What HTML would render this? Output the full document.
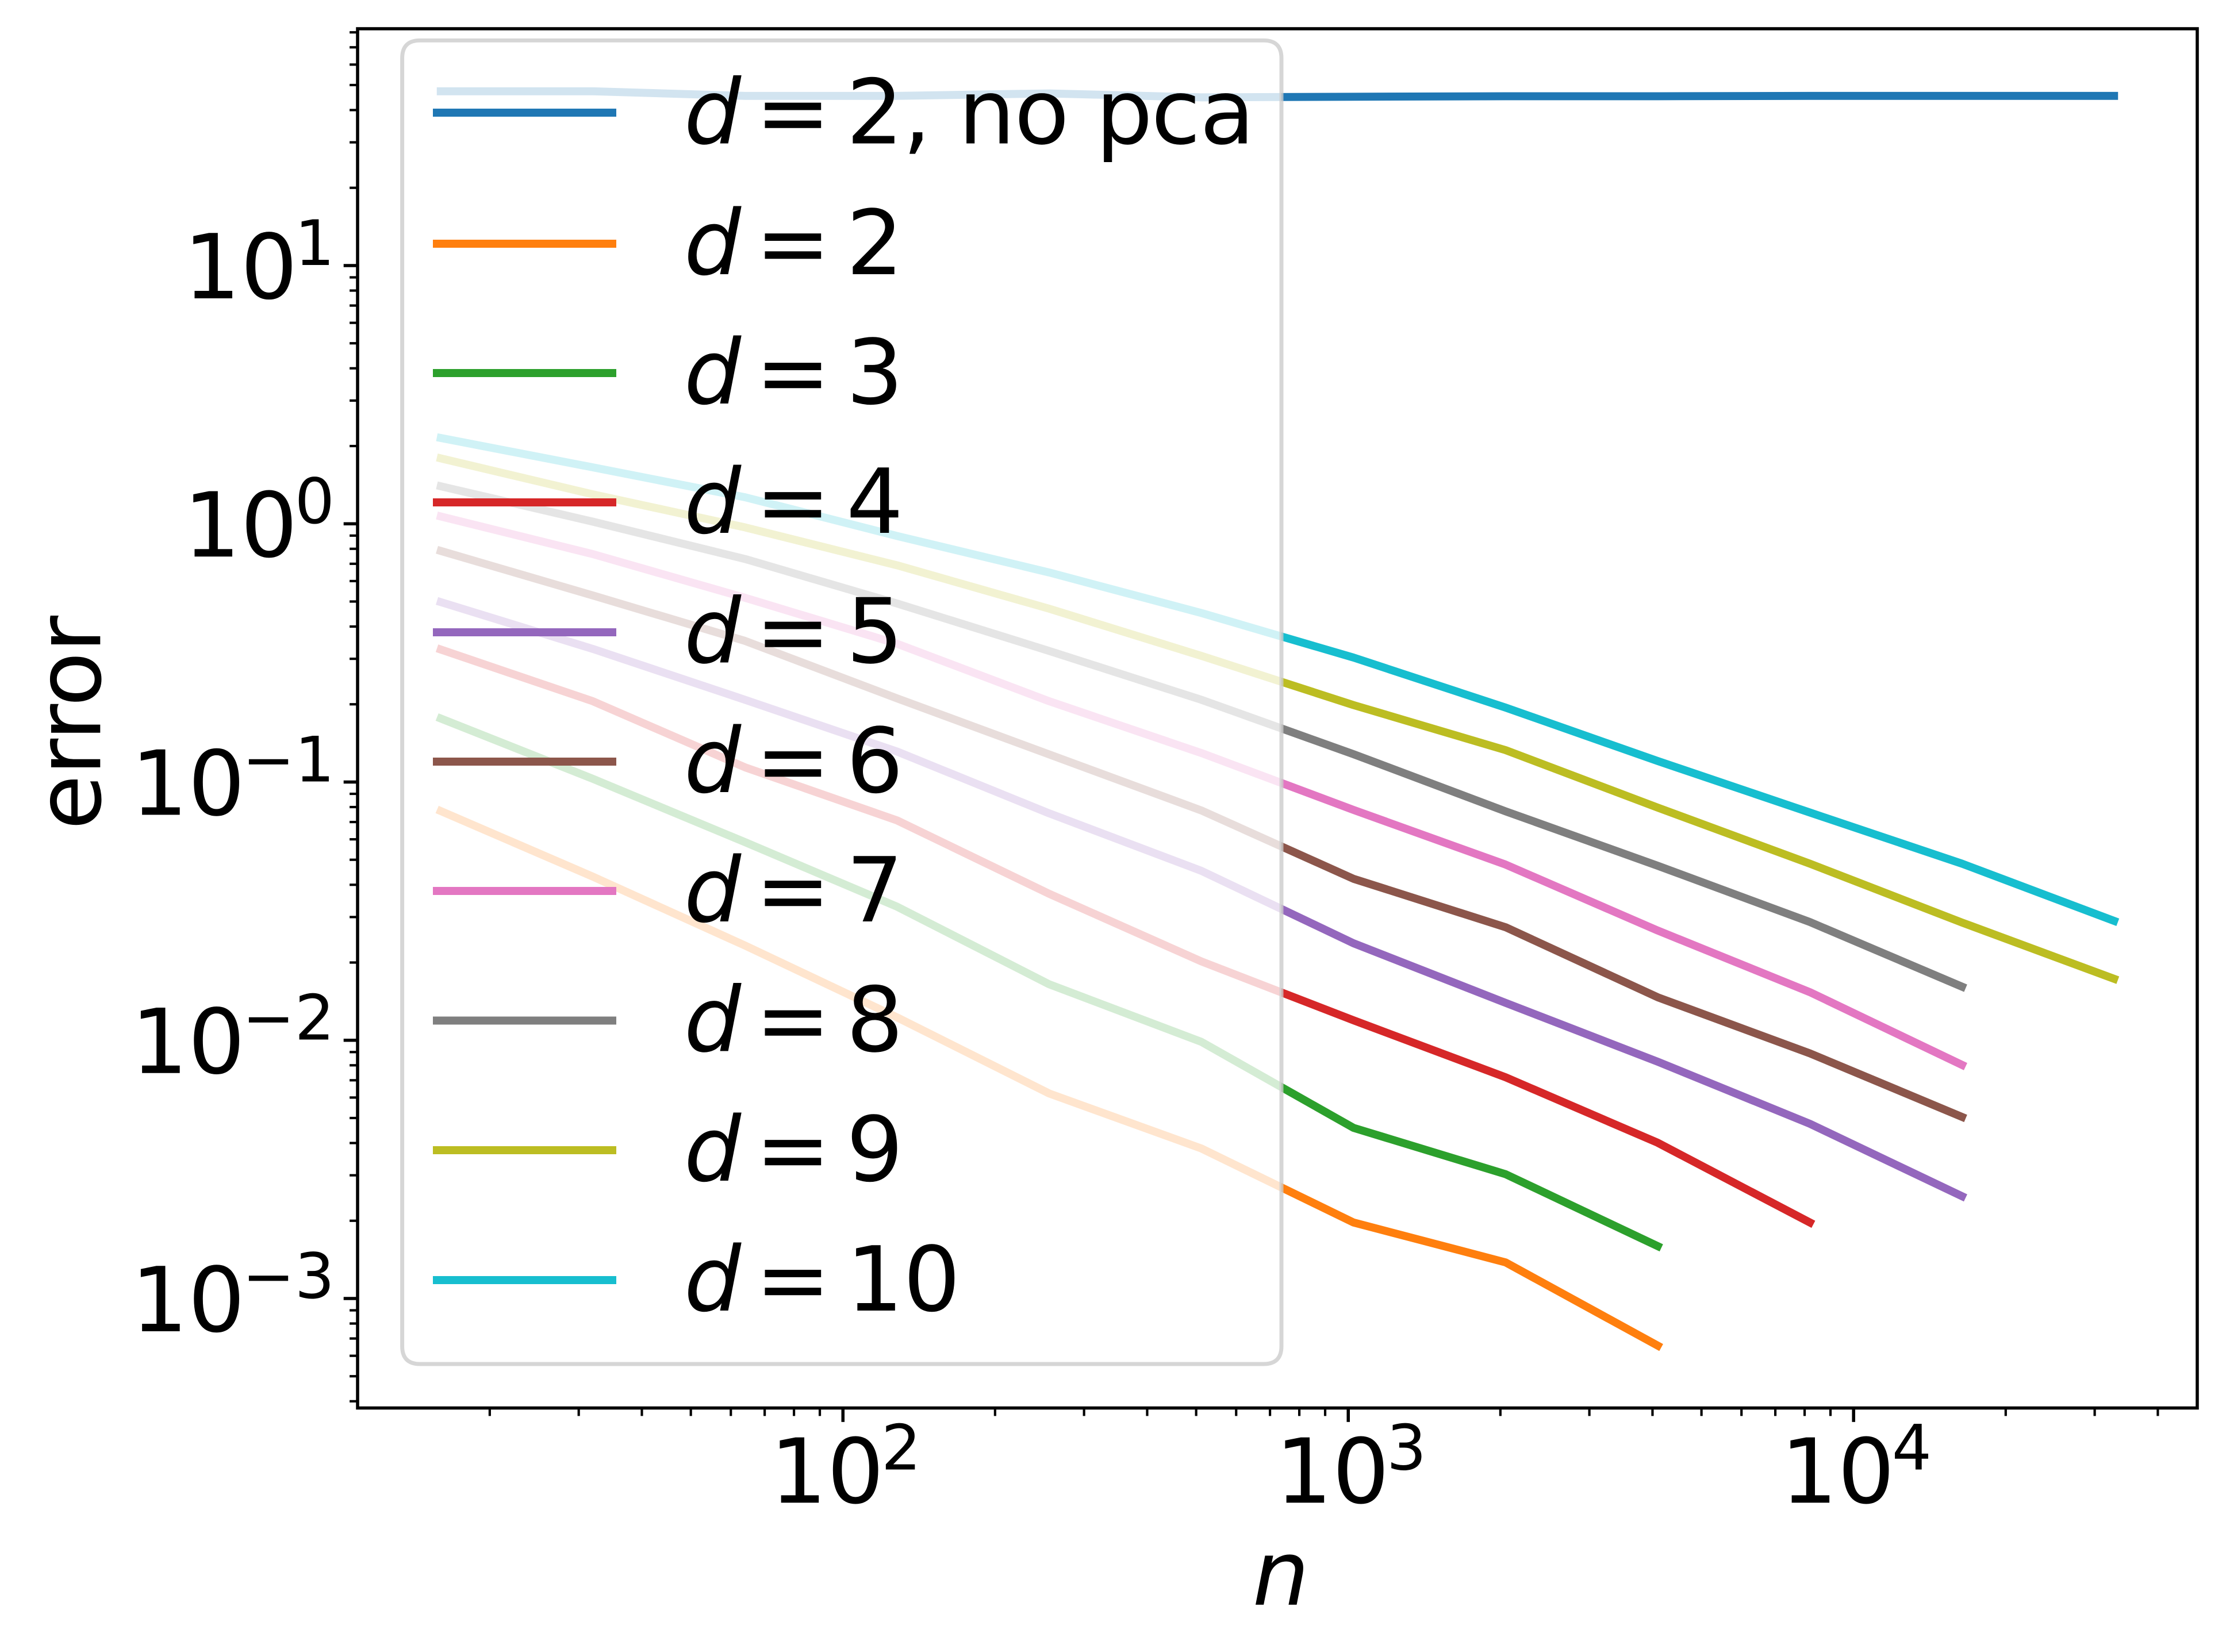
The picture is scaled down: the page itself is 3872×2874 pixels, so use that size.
<!DOCTYPE html>
<html lang="en">
<head>
<meta charset="utf-8">
<title>Error versus n on log-log axes</title>
<style>
html,body{margin:0;padding:0;background:#fff;width:3872px;height:2874px;overflow:hidden}
svg{display:block}
text{font-family:"DejaVu Sans","Liberation Sans",sans-serif;font-size:156px;fill:#000;text-rendering:geometricPrecision}
.it{font-style:oblique}
</style>
</head>
<body>
<svg xmlns="http://www.w3.org/2000/svg" width="3872" height="2874" viewBox="0 0 3872 2874">
  <rect x="0" y="0" width="3872" height="2874" fill="#fff"/>
  <g id="series"></g>
  <g id="ticks"></g>
  <rect x="622" y="50" width="3200" height="2399.5" fill="none" stroke="#000" stroke-width="5.55"/>
  <g id="tick-labels"></g>
  <text x="174.3" y="1258" text-anchor="middle" letter-spacing="-1.2" transform="rotate(-90 174.3 1258)">error</text>
  <text x="2228" y="2791.7" text-anchor="middle" class="it">n</text>

  <g>
    <path d="M730.6 70.3 H2198 Q2229 70.3 2229 101.3 V2342 Q2229 2373 2198 2373 H730.6 Q699.6 2373 699.6 2342 V101.3 Q699.6 70.3 730.6 70.3 Z" fill="#fff" fill-opacity="0.8" stroke="#ccc" stroke-opacity="0.8" stroke-width="6.94"/>

    <g>
      <rect x="753" y="189" width="319" height="14" fill="#1f77b4"/>
      <text y="249.5"><tspan x="1190" class="it">d</tspan><tspan x="1314">=</tspan><tspan x="1472">2</tspan><tspan x="1570 1620 1667 1764.4 1862 1906 2002.4 2087">, no pca</tspan></text>
    </g>
    <g>
      <rect x="753" y="417" width="319" height="14" fill="#ff7f0e"/>
      <text y="477"><tspan x="1190" class="it">d</tspan><tspan x="1314">=</tspan><tspan x="1472">2</tspan></text>
    </g>
    <g>
      <rect x="753" y="642" width="319" height="14" fill="#2ca02c"/>
      <text y="702"><tspan x="1190" class="it">d</tspan><tspan x="1314">=</tspan><tspan x="1472">3</tspan></text>
    </g>
    <g>
      <rect x="753" y="867" width="319" height="14" fill="#d62728"/>
      <text y="927"><tspan x="1190" class="it">d</tspan><tspan x="1314">=</tspan><tspan x="1472">4</tspan></text>
    </g>
    <g>
      <rect x="753" y="1093" width="319" height="14" fill="#9467bd"/>
      <text y="1152.5"><tspan x="1190" class="it">d</tspan><tspan x="1314">=</tspan><tspan x="1472">5</tspan></text>
    </g>
    <g>
      <rect x="753" y="1318" width="319" height="14" fill="#8c564b"/>
      <text y="1378"><tspan x="1190" class="it">d</tspan><tspan x="1314">=</tspan><tspan x="1472">6</tspan></text>
    </g>
    <g>
      <rect x="753" y="1543" width="319" height="14" fill="#e377c2"/>
      <text y="1603"><tspan x="1190" class="it">d</tspan><tspan x="1314">=</tspan><tspan x="1472">7</tspan></text>
    </g>
    <g>
      <rect x="753" y="1768.5" width="319" height="14" fill="#7f7f7f"/>
      <text y="1828.5"><tspan x="1190" class="it">d</tspan><tspan x="1314">=</tspan><tspan x="1472">8</tspan></text>
    </g>
    <g>
      <rect x="753" y="1994" width="319" height="14" fill="#bcbd22"/>
      <text y="2054"><tspan x="1190" class="it">d</tspan><tspan x="1314">=</tspan><tspan x="1472">9</tspan></text>
    </g>
    <g>
      <rect x="753" y="2220" width="319" height="14" fill="#17becf"/>
      <text y="2280"><tspan x="1190" class="it">d</tspan><tspan x="1314">=</tspan><tspan x="1472">10</tspan></text>
    </g>
  </g>
</svg>
<script>
const sampleSizes = [16, 32, 64, 128, 256, 512, 1024, 2048, 4096, 8192, 16384, 32768];

const errorD2NoPca = [47.3, 47.3, 45.4, 45.4, 46.4, 44.8, 45.05, 45.25, 45.25, 45.4, 45.4, 45.4];
const errorD2 = [0.0772, 0.043, 0.02327, 0.01226, 0.00622, 0.00381, 0.00197, 0.00138, 0.000657];
const errorD3 = [0.1762, 0.1029, 0.0585, 0.0329, 0.01647, 0.00986, 0.00458, 0.00303, 0.001595];
const errorD4 = [0.3259, 0.2055, 0.114, 0.071, 0.0369, 0.0202, 0.01195, 0.00719, 0.00401, 0.00197];
const errorD5 = [0.4974, 0.3276, 0.2082, 0.1312, 0.0756, 0.0453, 0.02375, 0.01396, 0.00826, 0.00475, 0.00249];
const errorD6 = [0.785, 0.5277, 0.352, 0.2108, 0.1279, 0.0776, 0.0422, 0.0274, 0.01467, 0.0089, 0.00505];
const errorD7 = [1.0676, 0.763, 0.517, 0.343, 0.2055, 0.1295, 0.078, 0.0479, 0.0266, 0.01536, 0.00803];
const errorD8 = [1.397, 1.019, 0.7306, 0.4911, 0.3218, 0.2082, 0.1282, 0.077, 0.0474, 0.0287, 0.01613];
const errorD9 = [1.792, 1.3, 0.9685, 0.6906, 0.4689, 0.308, 0.1986, 0.1329, 0.0796, 0.0483, 0.02857, 0.0173];
const errorD10 = [2.149, 1.654, 1.267, 0.8968, 0.6477, 0.4513, 0.3034, 0.1942, 0.1206, 0.0762, 0.0483, 0.029];

const seriesNames = ['d2-no-pca', 'd2', 'd3', 'd4', 'd5', 'd6', 'd7', 'd8', 'd9', 'd10'];
const seriesValues = [errorD2NoPca, errorD2, errorD3, errorD4, errorD5, errorD6, errorD7, errorD8, errorD9, errorD10];
const seriesColors = ['#1f77b4', '#ff7f0e', '#2ca02c', '#d62728', '#9467bd', '#8c564b', '#e377c2', '#7f7f7f', '#bcbd22', '#17becf'];

const xTickExponents = [2, 3, 4];
const xTickSuperscripts = ['2', '3', '4'];
const yTickExponents = [1, 0, -1, -2, -3];
const yTickSuperscripts = ['1', '0', '\u22121', '\u22122', '\u22123'];
const xLimits = [10.952, 47873];
const yLimits = [0.0003767, 82.6];

const NS = 'http://www.w3.org/2000/svg';
const PLOT = { left: 622, right: 3822, top: 50, bottom: 2449.5 };

function xPos(n) {
  const a = Math.log10(xLimits[0]);
  const b = Math.log10(xLimits[1]);
  return PLOT.left + (Math.log10(n) - a) / (b - a) * (PLOT.right - PLOT.left);
}
function yPos(v) {
  const a = Math.log10(yLimits[0]);
  const b = Math.log10(yLimits[1]);
  return PLOT.bottom - (Math.log10(v) - a) / (b - a) * (PLOT.bottom - PLOT.top);
}

const seriesGroup = document.getElementById('series');
seriesValues.forEach(function (values, i) {
  const line = document.createElementNS(NS, 'polyline');
  const points = values.map(function (v, j) {
    return xPos(sampleSizes[j]).toFixed(2) + ',' + yPos(v).toFixed(2);
  }).join(' ');
  line.setAttribute('points', points);
  line.setAttribute('fill', 'none');
  line.setAttribute('stroke', seriesColors[i]);
  line.setAttribute('stroke-width', '13.9');
  line.setAttribute('stroke-linecap', 'square');
  line.setAttribute('stroke-linejoin', 'round');
  
  
  seriesGroup.appendChild(line);
});

const tickGroup = document.getElementById('ticks');
function addTick(x1, y1, x2, y2, width, name) {
  const t = document.createElementNS(NS, 'line');
  t.setAttribute('x1', x1);
  t.setAttribute('y1', y1);
  t.setAttribute('x2', x2);
  t.setAttribute('y2', y2);
  t.setAttribute('stroke', '#000');
  t.setAttribute('stroke-width', width);
  
  
  tickGroup.appendChild(t);
}

for (let e = 1; e <= 4; e++) {
  for (let m = 1; m <= 9; m++) {
    const n = m * Math.pow(10, e);
    if (n < xLimits[0] || n > xLimits[1]) continue;
    const major = m === 1;
    const x = xPos(n);
    addTick(x, PLOT.bottom, x, PLOT.bottom + (major ? 24.3 : 13.9), major ? 5.55 : 4.17, major ? 'x-major-tick' : 'x-minor-tick');
  }
}
for (let e = -4; e <= 1; e++) {
  for (let m = 1; m <= 9; m++) {
    const v = m * Math.pow(10, e);
    if (v < yLimits[0] || v > yLimits[1]) continue;
    const major = m === 1;
    const y = yPos(v);
    addTick(PLOT.left, y, PLOT.left - (major ? 24.3 : 13.9), y, major ? 5.55 : 4.17, major ? 'y-major-tick' : 'y-minor-tick');
  }
}

const labelGroup = document.getElementById('tick-labels');
function addPowerLabel(x, y, anchor, sup, name) {
  const t = document.createElementNS(NS, 'text');
  t.setAttribute('x', x);
  t.setAttribute('y', y);
  t.setAttribute('text-anchor', anchor);
  
  
  t.appendChild(document.createTextNode('10'));
  const s = document.createElementNS(NS, 'tspan');
  s.setAttribute('dy', '-58');
  s.setAttribute('dx', '-5');
  s.setAttribute('font-size', '109');
  s.style.fontSize = '109px';
  s.textContent = sup;
  t.appendChild(s);
  labelGroup.appendChild(t);
}
xTickExponents.forEach(function (e, i) {
  addPowerLabel(xPos(Math.pow(10, e)) + 4.5, 2614.3, 'middle', xTickSuperscripts[i], 'x-tick-label');
});
yTickExponents.forEach(function (e, i) {
  addPowerLabel(582, yPos(Math.pow(10, e)) + 57, 'end', yTickSuperscripts[i], 'y-tick-label');
});
</script>
</body>
</html>
